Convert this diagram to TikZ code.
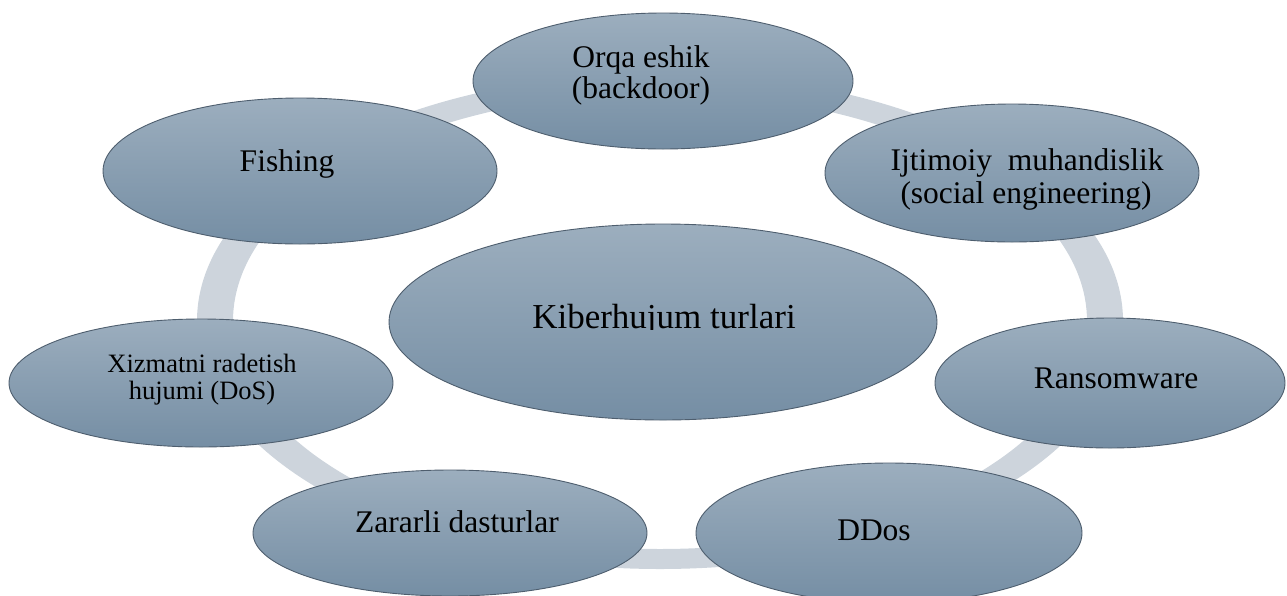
\documentclass[tikz,border=0pt]{standalone}
\usepackage{fontspec}
\setmainfont{Liberation Serif}
\usetikzlibrary{shapes.geometric}

\definecolor{bubbletop}{RGB}{156,174,190}
\definecolor{bubblebottom}{RGB}{117,142,164}
\definecolor{bubbleedge}{RGB}{78,94,110}
\definecolor{ringgrey}{RGB}{205,212,220}

\tikzset{
  bubble/.style={ellipse, draw=bubbleedge, line width=0.9pt,
    top color=bubbletop, bottom color=bubblebottom, inner sep=0pt},
  lbl/.style={anchor=base, inner sep=0pt, text=black,
    font=\fontsize{31.5}{33}\selectfont},
  smalllbl/.style={lbl, font=\fontsize{26.5}{28}\selectfont},
  biglbl/.style={lbl, font=\fontsize{35}{37}\selectfont},
}

\begin{document}
\begin{tikzpicture}[x=1pt, y=-1pt]
\useasboundingbox (0,0) rectangle (1287,595);

% background ring joining the satellites
\coordinate (ringc) at (660,321);
\fill[ringgrey, even odd rule]
  (ringc) ellipse [x radius=463pt, y radius=248pt]
  (ringc) ellipse [x radius=427pt, y radius=228pt];

% satellites
\node[bubble, minimum width=380pt, minimum height=136pt] (orqa) at (663,81) {};
\node[bubble, minimum width=394pt, minimum height=146pt] (fishing) at (300,171) {};
\node[bubble, minimum width=374pt, minimum height=138pt] (ijtimoiy) at (1012,173) {};
\node[bubble, minimum width=384pt, minimum height=128pt] (xizmat) at (201,383) {};
\node[bubble, minimum width=350pt, minimum height=130pt] (ransom) at (1110,383) {};
\node[bubble, minimum width=394pt, minimum height=126pt] (zararli) at (450,533) {};
\node[bubble, minimum width=386pt, minimum height=140pt] (ddos) at (889,533) {};

% hub
\node[bubble, minimum width=548pt, minimum height=196pt] (hub) at (663,322) {};

% labels
\node[lbl] (orqa1) at (641,67) {Orqa eshik};
\node[lbl] (orqa2) at (641,98) {(backdoor)};
\node[lbl] (fishing1) at (287,171) {Fishing};
\node[lbl] (ijtimoiy1) at (1027,170) {Ijtimoiy\ \ muhandislik};
\node[lbl] (ijtimoiy2) at (1026,203) {(social engineering)};
\node[smalllbl] (xizmat1) at (202,372) {Xizmatni radetish};
\node[smalllbl] (xizmat2) at (202,399) {hujumi (DoS)};
\node[lbl] (ransom1) at (1116,388) {Ransomware};
\node[lbl] (zararli1) at (457,532) {Zararli dasturlar};
\node[lbl] (ddos1) at (874,540) {DDos};

% hub title, cut off at its baseline
\begin{scope}
  \clip (380,200) rectangle (950,329);
  \node[biglbl] (hub1) at (664,328) {Kiberhujum turlari};
\end{scope}
\end{tikzpicture}
\end{document}
